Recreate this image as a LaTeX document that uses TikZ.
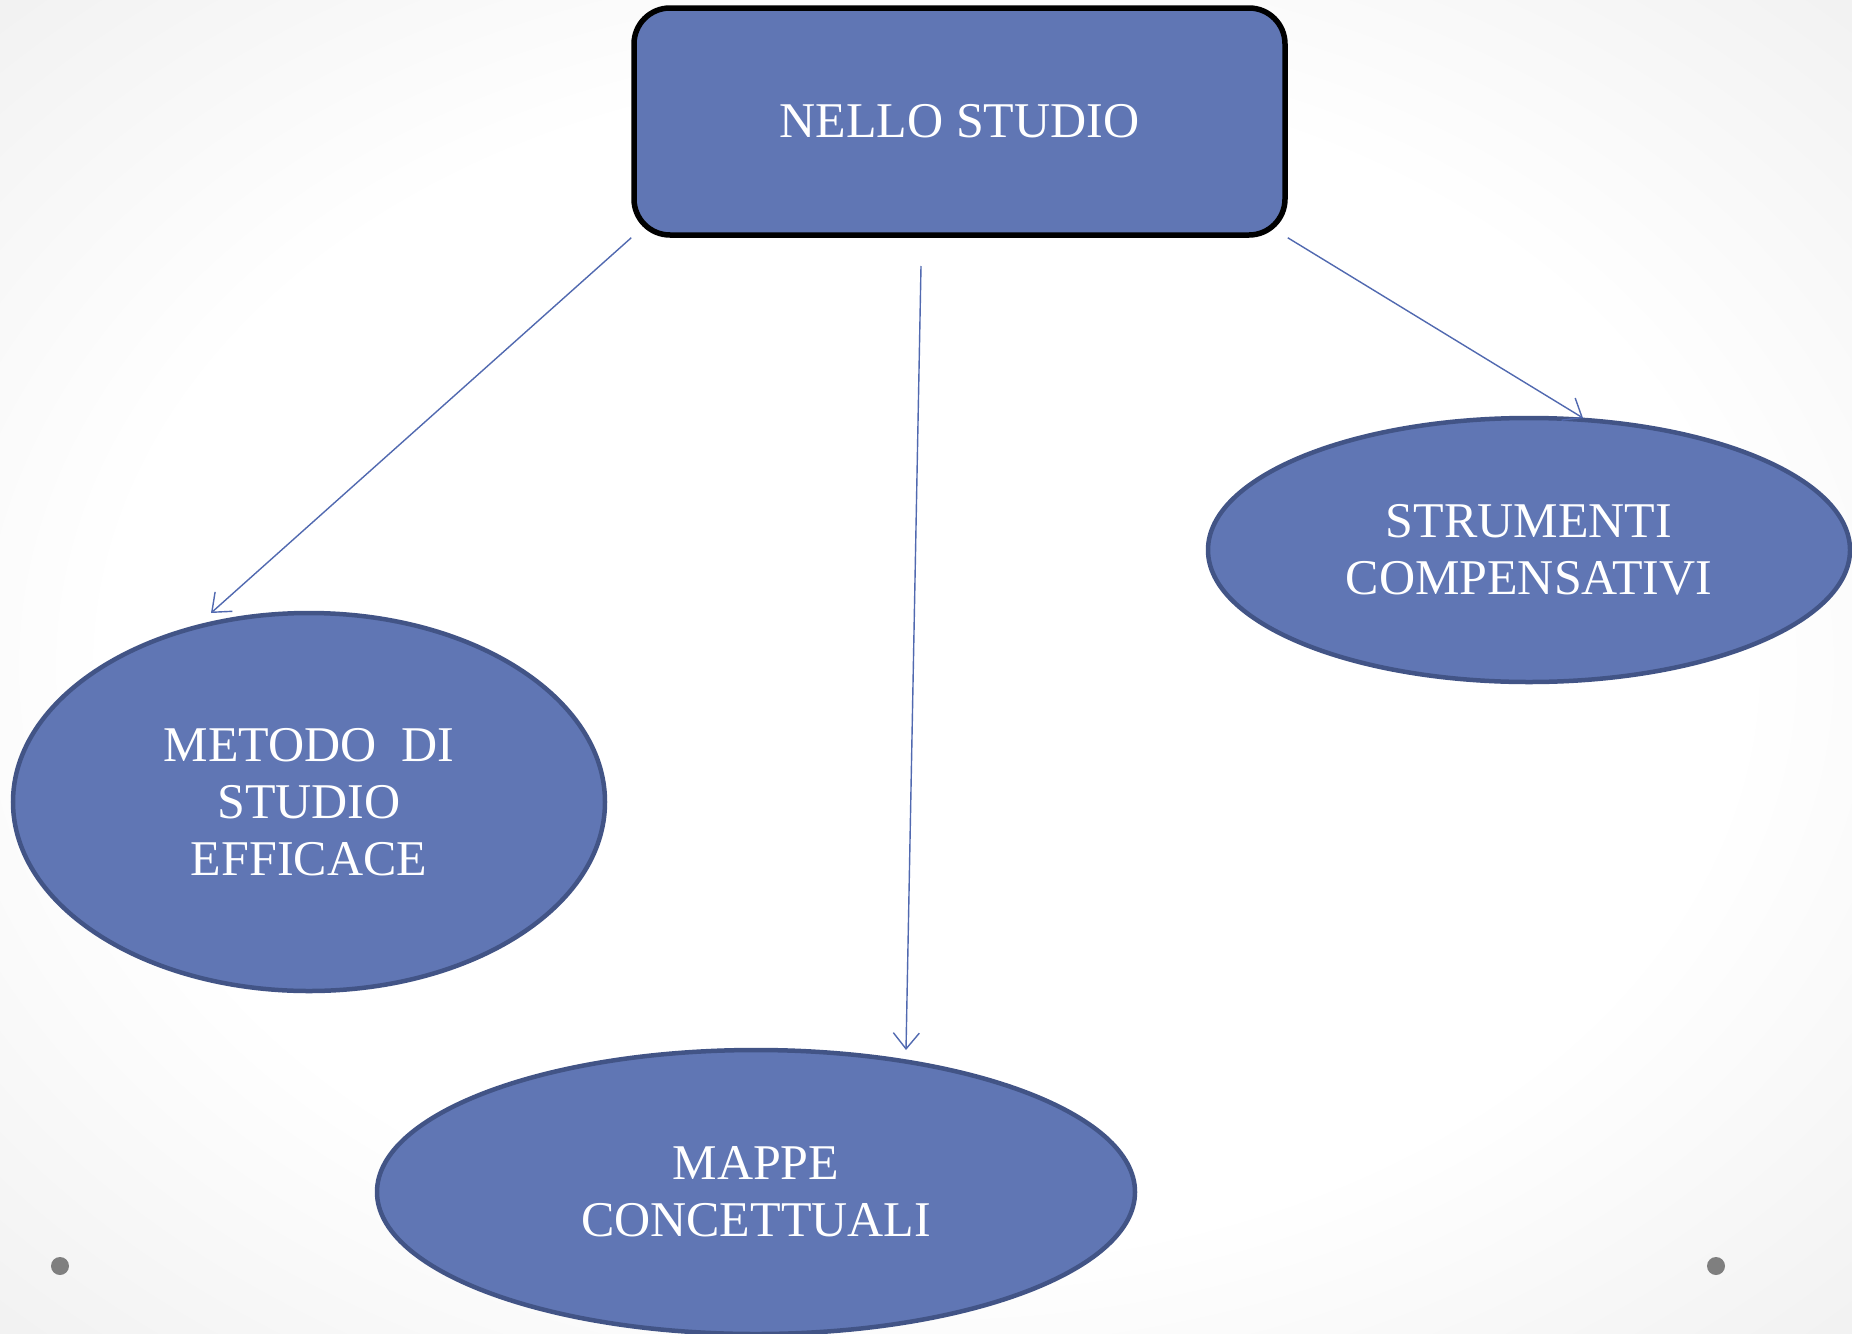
\documentclass[tikz,border=0pt]{standalone}
\usepackage{fontspec}
\setmainfont{Liberation Serif}
\usetikzlibrary{arrows.meta,shapes.geometric}
\definecolor{boxfill}{HTML}{6076B4}
\definecolor{ellborder}{HTML}{425486}
\definecolor{linkcol}{HTML}{5169B0}
\definecolor{dotcol}{HTML}{7F7F7F}
\pgfdeclareradialshading{bgshade}{\pgfpoint{0bp}{0bp}}{color(0bp)=(white); color(22bp)=(white); color(50bp)=(black!11); color(72bp)=(black!17)}
\tikzset{
  lab/.style={text=white, font=\fontsize{50}{57}\selectfont, align=center},
  topbox/.style={lab, draw=black, line width=5.5pt, fill=boxfill, rounded corners=36pt, minimum width=651pt, minimum height=227pt, inner sep=0pt},
  ellnode/.style={lab, ellipse, draw=ellborder, line width=4.5pt, fill=boxfill, inner sep=0pt},
  link/.style={draw=linkcol, line width=1.4pt, -{Straight Barb[length=16pt,width=26pt,line width=1.4pt]}},
  pagedot/.style={circle, fill=dotcol, minimum size=18pt, inner sep=0pt}
}
\begin{document}
\begin{tikzpicture}[x=1pt,y=-1pt]
\useasboundingbox (0,0) rectangle (1852,1333);
\shade[shading=bgshade] (0,0) rectangle (1852,1333);
\node[pagedot] (d1) at (60,1266) {};
\node[pagedot] (d2) at (1716,1266) {};
\node[topbox] (top) at (959.5,121.5) {NELLO STUDIO};
\node[ellnode, minimum width=592pt, minimum height=378pt] (met) at (309,802) {METODO\ \ DI\\STUDIO\\EFFICACE};
\node[ellnode, minimum width=642pt, minimum height=264pt] (str) at (1529,550) {STRUMENTI\\COMPENSATIVI};
\node[ellnode, minimum width=758pt, minimum height=284pt] (map) at (756,1192) {MAPPE\\CONCETTUALI};
\coordinate (midstart) at (921,266);
\coordinate (e1) at (211,613);
\coordinate (e2) at (906,1050);
\coordinate (e3) at (1583,418);
\draw[link] (top.south west) -- (e1);
\draw[link] (midstart) -- (e2);
\draw[link] (top.south east) -- (e3);
\end{tikzpicture}
\end{document}
